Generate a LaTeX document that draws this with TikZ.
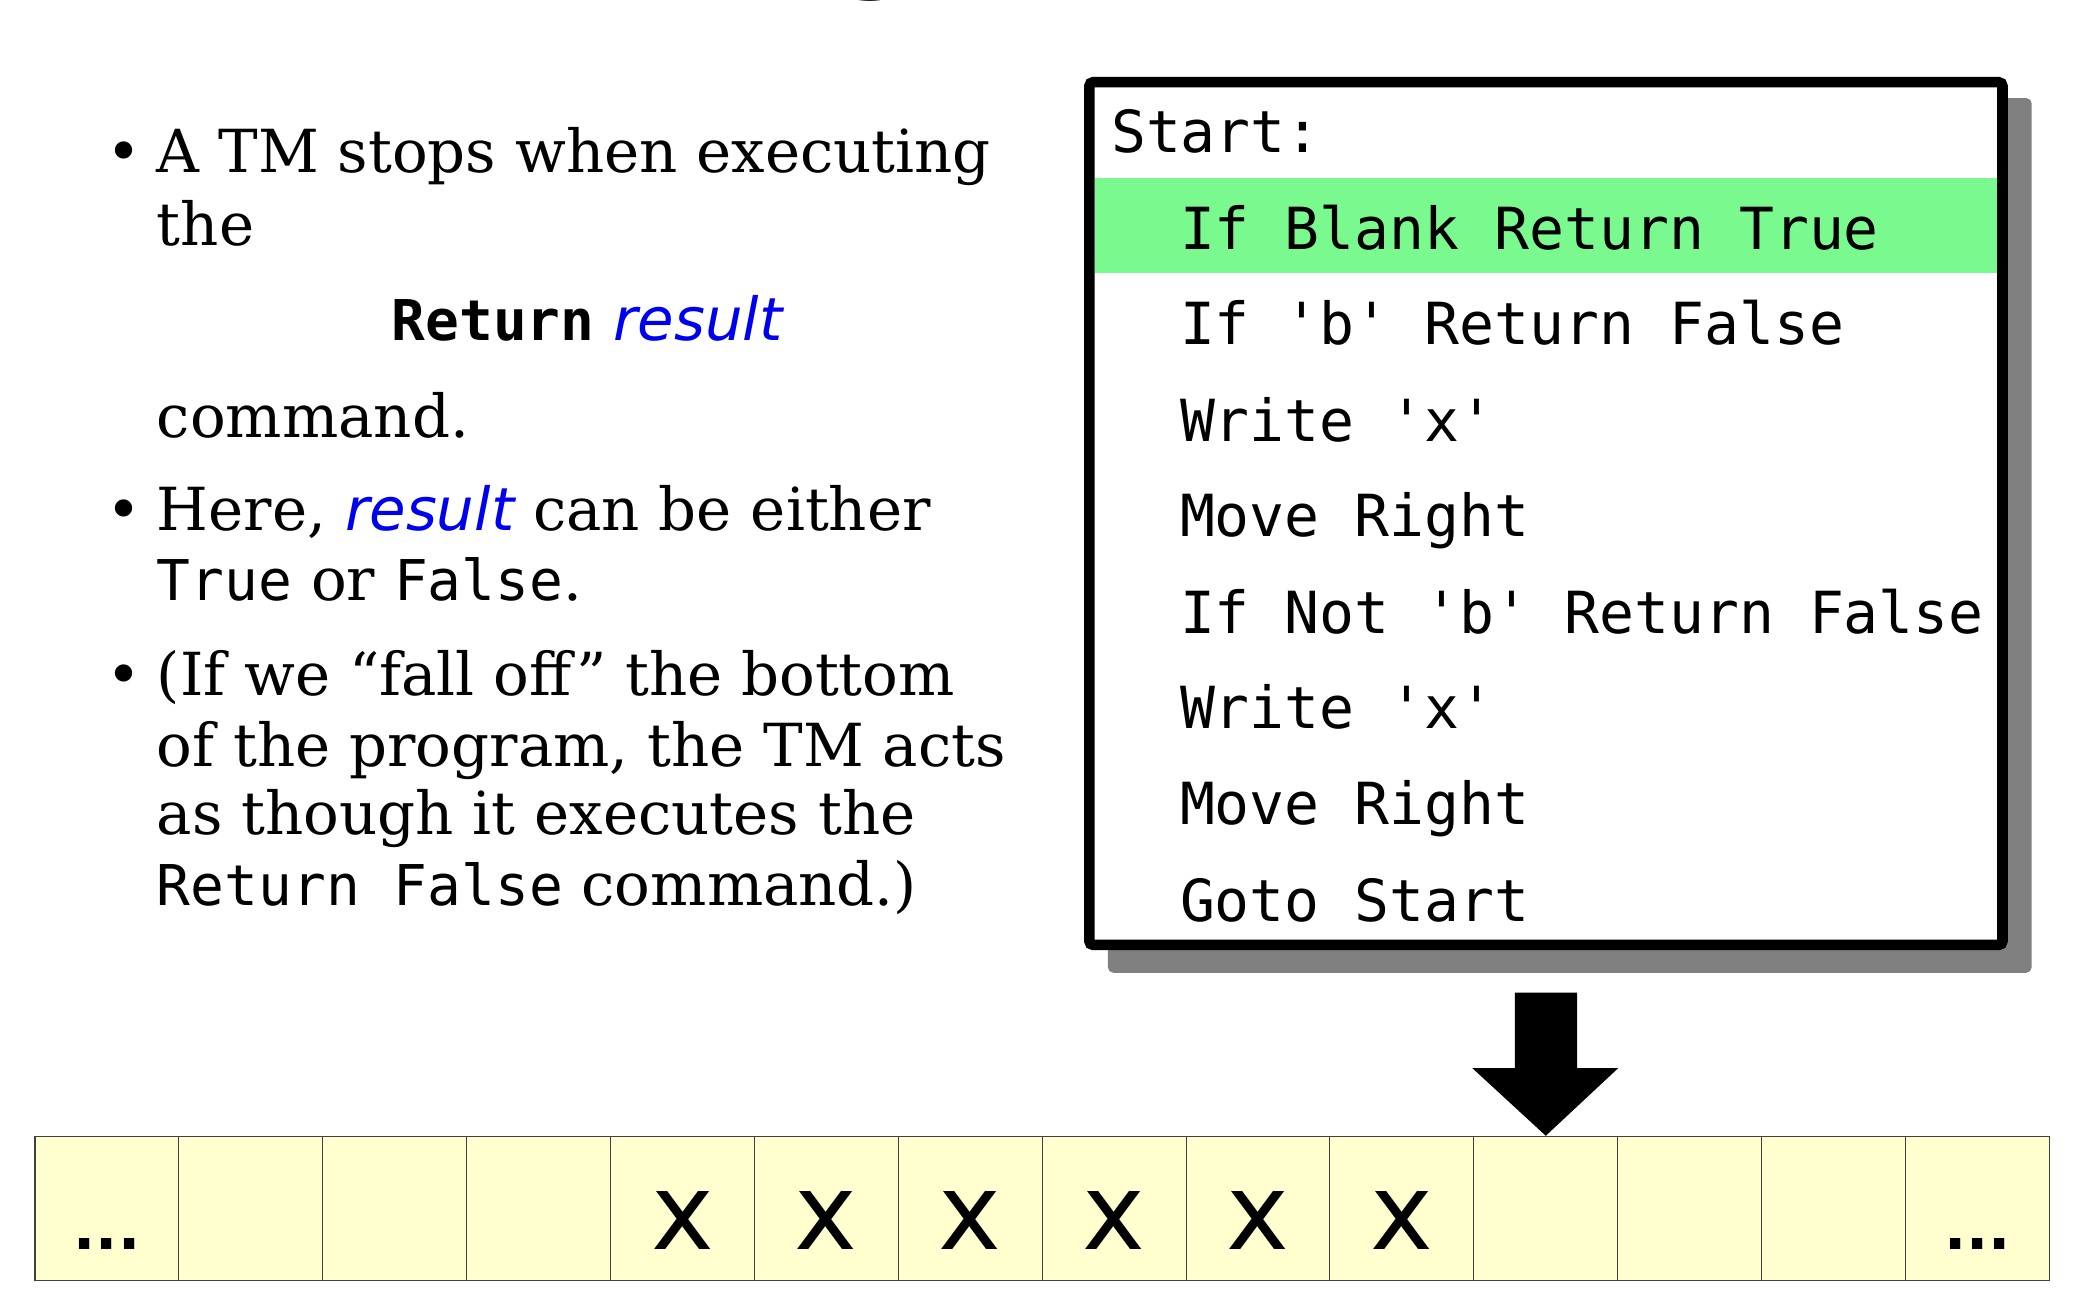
\documentclass[tikz,border=0pt]{standalone}
\usepackage{fontspec}
\usetikzlibrary{calc}
\setmainfont{DejaVu Serif}
\setsansfont{DejaVu Sans}
\setmonofont{DejaVu Sans Mono}
\definecolor{resblue}{RGB}{0,0,240}
\definecolor{hlgreen}{RGB}{122,250,142}
\definecolor{tapefill}{RGB}{255,255,208}
\definecolor{shadowgray}{RGB}{128,128,128}
\tikzset{
  txt/.style={anchor=base west, inner sep=0pt, font=\fontsize{22.4}{26}\selectfont},
  prog/.style={anchor=base west, inner sep=0pt, font=\ttfamily\fontsize{21.9}{26}\selectfont},
  cell/.style={draw=black!75, line width=0.4pt, fill=tapefill, anchor=north west,
    minimum width=54.29pt, minimum height=54.5pt, inner sep=0pt},
  sym/.style={anchor=base, inner sep=0pt, font=\sffamily\fontsize{40}{40}\selectfont},
  dots/.style={anchor=base, inner sep=0pt, font=\sffamily\bfseries\fontsize{22}{22}\selectfont}
}
\newcommand{\res}{{\color{resblue}\sffamily\itshape result}}
\newcommand{\lmono}[1]{{\ttfamily\fontsize{21.2}{26}\selectfont #1}}
\begin{document}
\begin{tikzpicture}[x=0.5pt,y=-0.5pt]
\useasboundingbox (0,0) rectangle (1568,993);
% cut-off title descender
\node[anchor=base, inner sep=0pt, font=\sffamily\fontsize{56}{56}\selectfont] (title) at (660,-22) {g};
% left text
\node[txt] (bu1) at (80,130) {•};
\node[txt] (l1) at (118,130) {A TM stops when executing};
\node[txt] (l2) at (118,185) {the};
\node[anchor=base, inner sep=0pt, font=\fontsize{22.4}{26}\selectfont] (l3) at (443,257) {{\bfseries\lmono{Return}} \res};
\node[txt] (l4) at (118,330) {command.};
\node[txt] (bu2) at (80,400) {•};
\node[txt] (l5) at (118,400) {Here, \res{} can be either};
\node[txt] (l6) at (118,453) {\lmono{True} or \lmono{False}.};
\node[txt] (bu3) at (80,525) {•};
\node[txt] (l7) at (118,525) {(If we “fall off” the bottom};
\node[txt] (l8) at (118,578) {of the program, the TM acts};
\node[txt] (l9) at (118,630) {as though it executes the};
\node[txt] (l10) at (118,683) {\lmono{Return False} command.)};
% program box
\fill[shadowgray, rounded corners=2pt] (836,74) rectangle (1533,734);
\draw[line width=4pt, fill=white, rounded corners=1.5pt] (822,62) rectangle (1511,713);
\fill[hlgreen] (826,134) rectangle (1507,206);
\node[prog] (p0) at (838,115) {Start:};
\node[prog] (p1) at (890,188) {If Blank Return True};
\node[prog] (p2) at (890,260) {If 'b' Return False};
\node[prog] (p3) at (890,333) {Write 'x'};
\node[prog] (p4) at (890,405) {Move Right};
\node[prog] (p5) at (890,478) {If Not 'b' Return False};
\node[prog] (p6) at (890,550) {Write 'x'};
\node[prog] (p7) at (890,622) {Move Right};
\node[prog] (p8) at (890,695) {Goto Start};
% tape
\foreach \i in {1,...,14} {
  \node[cell] (c\i) at ({26+(\i-1)*108.57},857) {};
}
\fill (1143,749) -- (1190,749) -- (1190,806) -- (1221,806) -- (c11.north) -- (1111,806) -- (1143,806) -- cycle;
\foreach \i in {5,...,10} {
  \node[sym] at ($(c\i.south)+(0,-24)$) {x};
}
\node[dots] at ($(c1.south)+(0,-24)$) {...};
\node[dots] at ($(c14.south)+(0,-24)$) {...};
\end{tikzpicture}
\end{document}
